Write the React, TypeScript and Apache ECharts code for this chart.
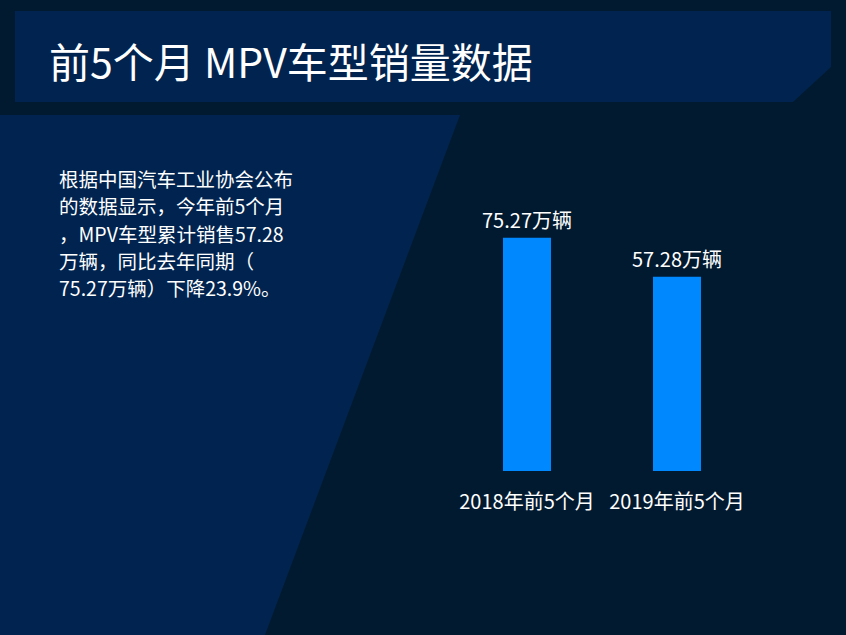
import React, { useEffect, useRef } from 'react';
import * as echarts from 'echarts';

const categories = ['2018年前5个月', '2019年前5个月'];
const salesValues = [75.27, 57.28];
const valueUnit = '万辆';
const titleText = '前5个月 MPV车型销量数据';
const paragraphLines = [
  '根据中国汽车工业协会公布',
  '的数据显示，今年前5个月',
  '，MPV车型累计销售57.28',
  '万辆，同比去年同期（',
  '75.27万辆）下降23.9%。',
];

const FONT = '"Noto Sans CJK SC", "Microsoft YaHei", sans-serif';
const Y_MIN = -32.2;
const Y_MAX = 100;

export default function App() {
  const ref = useRef<HTMLDivElement>(null);
  useEffect(() => {
    document.body.style.margin = '0';
    const chart = echarts.init(ref.current!, null, { renderer: 'svg' });
    chart.setOption({
      animation: false,
      backgroundColor: '#021a2f',
      textStyle: { fontFamily: FONT },
      graphic: [
        {
          type: 'polygon',
          shape: { points: [[15, 11], [831, 11], [831, 67], [793, 102], [15, 102]] },
          style: { fill: '#00244f' },
          z: -10,
        },
        {
          type: 'polygon',
          shape: { points: [[0, 115], [460, 115], [265, 635], [0, 635]] },
          style: { fill: '#00244f' },
          z: -10,
        },
        {
          type: 'text',
          x: 49,
          y: 60,
          style: {
            text: titleText,
            fill: '#ffffff',
            fontSize: 41,
            fontFamily: FONT,
            verticalAlign: 'middle',
          },
        },
        {
          type: 'text',
          x: 59,
          y: 165,
          style: {
            text: paragraphLines.join('\n'),
            fill: '#ffffff',
            fontSize: 19.5,
            lineHeight: 27.2,
            fontFamily: FONT,
            verticalAlign: 'top',
          },
        },
      ],
      grid: { left: 452, right: 94, top: 184, bottom: 164 },
      xAxis: {
        type: 'category',
        data: categories,
        axisLine: { show: false },
        axisTick: { show: false },
        axisLabel: { color: '#ffffff', fontSize: 20, margin: 19, interval: 0, fontFamily: FONT },
      },
      yAxis: {
        type: 'value',
        min: Y_MIN,
        max: Y_MAX,
        show: false,
        splitLine: { show: false },
      },
      series: [
        {
          type: 'custom',
          data: salesValues.map((v, i) => [i, v]),
          encode: { x: 0, y: 1 },
          renderItem: (params: any, api: any) => {
            const idx = api.value(0);
            const v = api.value(1);
            const top = api.coord([idx, v]);
            const base = api.coord([idx, Y_MIN]);
            const w = 48;
            return {
              type: 'rect',
              shape: { x: top[0] - w / 2, y: top[1], width: w, height: base[1] - top[1] },
              style: { fill: '#0088ff' },
              textContent: {
                style: {
                  text: String(v) + valueUnit,
                  fill: '#ffffff',
                  fontSize: 20,
                  fontFamily: FONT,
                },
              },
              textConfig: { position: 'top', distance: 8 },
            };
          },
        },
      ],
    });
    return () => chart.dispose();
  }, []);
  return (
    <div
      ref={ref}
      style={{ position: 'fixed', left: 0, top: 0, width: 846, height: 635 }}
    />
  );
}
